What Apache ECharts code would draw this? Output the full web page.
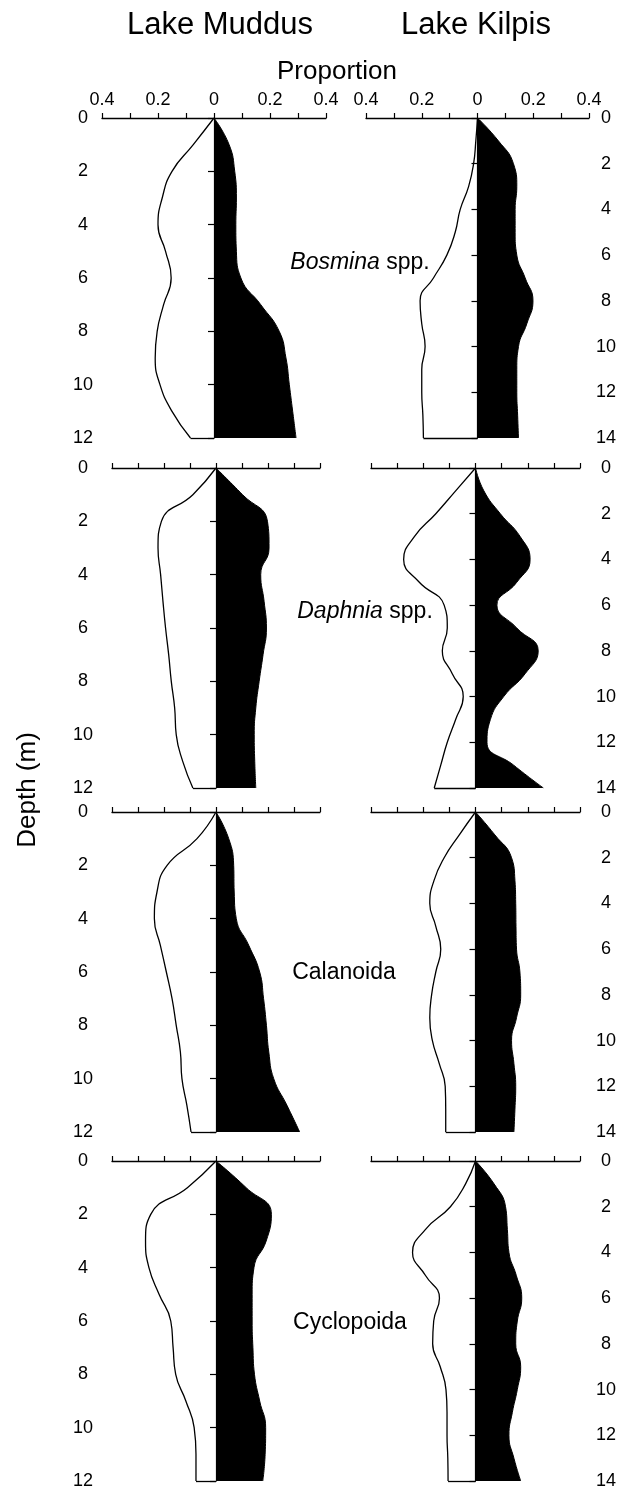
<!DOCTYPE html>
<html>
<head>
<meta charset="utf-8">
<script src="https://cdn.jsdelivr.net/npm/echarts@6/dist/echarts.min.js"></script>
<style>
html, body { margin: 0; padding: 0; background: #fff; }
#main { width: 628px; height: 1490px; }
</style>
</head>
<body>
<div id="main"></div>
<script>
// depth categories (m)
var muddusDepths = ['0','1','2','3','4','5','6','7','8','9','10','11','12'];
var kilpisDepths = ['0','1','2','3','4','5','6','7','8','9','10','11','12','13','14'];
var taxa = ['Bosmina', 'Daphnia', 'Calanoida', 'Cyclopoida'];
var proportionTicks = [-0.4, -0.2, 0, 0.2, 0.4];

// white profile (drawn left of zero) and black profile (drawn right of zero)
var muddusBosminaWhite = [0, 0.074, 0.15, 0.185, 0.20, 0.173, 0.153, 0.18, 0.203, 0.21, 0.193, 0.15, 0.084];
var muddusBosminaBlack = [0, 0.054, 0.074, 0.08, 0.078, 0.08, 0.096, 0.167, 0.233, 0.257, 0.269, 0.281, 0.293];
var kilpisBosminaWhite = [0, 0.006, 0.014, 0.032, 0.062, 0.08, 0.11, 0.158, 0.206, 0.20, 0.188, 0.2, 0.2, 0.196, 0.194];
var kilpisBosminaBlack = [0, 0.075, 0.129, 0.141, 0.135, 0.135, 0.141, 0.171, 0.199, 0.177, 0.147, 0.141, 0.141, 0.144, 0.147];

var muddusDaphniaWhite = [0, 0.089, 0.21, 0.223, 0.213, 0.204, 0.194, 0.182, 0.172, 0.159, 0.153, 0.128, 0.089];
var muddusDaphniaBlack = [0, 0.102, 0.198, 0.204, 0.172, 0.185, 0.194, 0.181, 0.166, 0.153, 0.147, 0.149, 0.153];
var kilpisDaphniaWhite = [0, 0.076, 0.152, 0.234, 0.275, 0.215, 0.12, 0.108, 0.127, 0.089, 0.047, 0.076, 0.108, 0.133, 0.158];
var kilpisDaphniaBlack = [0, 0.032, 0.095, 0.171, 0.209, 0.158, 0.082, 0.158, 0.24, 0.19, 0.108, 0.057, 0.044, 0.146, 0.26];

var muddusCalanoidaWhite = [0, 0.073, 0.188, 0.227, 0.237, 0.214, 0.191, 0.169, 0.153, 0.137, 0.131, 0.112, 0.096];
var muddusCalanoidaBlack = [0, 0.049, 0.068, 0.07, 0.078, 0.126, 0.168, 0.183, 0.194, 0.203, 0.222, 0.273, 0.322];
var kilpisCalanoidaWhite = [0, 0.062, 0.12, 0.159, 0.175, 0.152, 0.133, 0.152, 0.168, 0.175, 0.165, 0.139, 0.116, 0.114, 0.114];
var kilpisCalanoidaBlack = [0, 0.074, 0.138, 0.151, 0.154, 0.155, 0.157, 0.17, 0.173, 0.157, 0.138, 0.147, 0.154, 0.151, 0.147];

var muddusCyclopoidaWhite = [0, 0.11, 0.251, 0.271, 0.258, 0.219, 0.174, 0.165, 0.155, 0.116, 0.084, 0.077, 0.077];
var muddusCyclopoidaBlack = [0, 0.116, 0.213, 0.193, 0.146, 0.139, 0.139, 0.142, 0.148, 0.168, 0.191, 0.189, 0.18];
var kilpisCyclopoidaWhite = [0, 0.038, 0.096, 0.192, 0.241, 0.192, 0.138, 0.16, 0.164, 0.135, 0.113, 0.109, 0.109, 0.106, 0.105];
var kilpisCyclopoidaBlack = [0, 0.071, 0.115, 0.122, 0.128, 0.156, 0.177, 0.16, 0.154, 0.173, 0.16, 0.141, 0.128, 0.147, 0.173];

var profiles = [
    [muddusBosminaWhite, muddusBosminaBlack, kilpisBosminaWhite, kilpisBosminaBlack],
    [muddusDaphniaWhite, muddusDaphniaBlack, kilpisDaphniaWhite, kilpisDaphniaBlack],
    [muddusCalanoidaWhite, muddusCalanoidaBlack, kilpisCalanoidaWhite, kilpisCalanoidaBlack],
    [muddusCyclopoidaWhite, muddusCyclopoidaBlack, kilpisCyclopoidaWhite, kilpisCyclopoidaBlack]
];

var FONT = '"Liberation Sans", Arial, Helvetica, sans-serif';
var myChart = echarts.init(document.getElementById('main'), null, { renderer: 'canvas' });

// panel layout
var rowTop = [118, 468, 812, 1161];
var rowHeight = 320;
var leftCol = [[102, 224], [112, 208], [112, 208], [112, 208]];
var rightCol = [[366, 223], [371, 209], [371, 209], [371, 209]];
var labelLeftX = 83, labelRightX = 606;

var grids = [], xAxes = [], yAxes = [], series = [];

function addPanel(row, isKilpis) {
    var g = grids.length;
    var col = isKilpis ? rightCol[row] : leftCol[row];
    var depths = isKilpis ? kilpisDepths : muddusDepths;
    var white = profiles[row][isKilpis ? 2 : 0];
    var black = profiles[row][isKilpis ? 3 : 1];
    grids.push({ left: col[0], width: col[1], top: rowTop[row], height: rowHeight });
    xAxes.push({
        type: 'value', gridIndex: g, position: 'top', min: -0.4, max: 0.4, interval: 0.1,
        axisLine: { show: true, onZero: false, lineStyle: { color: '#000', width: 1.3 } },
        axisTick: { show: true, length: 5, lineStyle: { color: '#000', width: 1.2 } },
        splitLine: { show: false },
        axisLabel: {
            show: row === 0, margin: 9, color: '#000', fontSize: 18, fontFamily: FONT,
            formatter: function (v) {
                for (var i = 0; i < proportionTicks.length; i++) {
                    if (Math.abs(v - proportionTicks[i]) < 1e-6) return String(Math.abs(proportionTicks[i]));
                }
                return '';
            }
        }
    });
    // axis running down the zero line (ticks only)
    yAxes.push({
        type: 'category', gridIndex: g, data: depths, inverse: true, boundaryGap: false, z: 10,
        position: 'left',
        axisLine: { show: true, onZero: true, lineStyle: { color: '#000', width: 1.2 } },
        axisTick: { show: true, interval: 1, length: 6, lineStyle: { color: '#000', width: 1.2 } },
        axisLabel: { show: false },
        splitLine: { show: false }
    });
    // depth labels at the outer side
    var margin = isKilpis ? labelRightX - (col[0] + col[1]) : col[0] - labelLeftX;
    yAxes.push({
        type: 'category', gridIndex: g, data: depths, inverse: true, boundaryGap: false,
        position: isKilpis ? 'right' : 'left',
        axisLine: { show: false, onZero: false },
        axisTick: { show: false },
        splitLine: { show: false },
        axisLabel: { interval: 1, margin: margin, align: 'center', color: '#000', fontSize: 18, fontFamily: FONT }
    });
    var last = depths[depths.length - 1];
    series.push({
        type: 'line', xAxisIndex: g, yAxisIndex: 2 * g, smooth: 0.5, symbol: 'none', z: 2,
        data: white.map(function (v) { return -v; }),
        lineStyle: { color: '#000', width: 1.3 },
        areaStyle: { color: '#fff', opacity: 1 },
        markLine: {
            silent: true, symbol: 'none', label: { show: false },
            lineStyle: { color: '#000', width: 1.3, type: 'solid' },
            data: [[{ coord: [-white[white.length - 1], last] }, { coord: [0, last] }]]
        }
    });
    series.push({
        type: 'line', xAxisIndex: g, yAxisIndex: 2 * g, smooth: 0.5, symbol: 'none', z: 3,
        data: black,
        lineStyle: { color: '#000', width: 1 },
        areaStyle: { color: '#000', opacity: 1 }
    });
}

for (var r = 0; r < 4; r++) {
    addPanel(r, false);
    addPanel(r, true);
}

var taxonLabelPos = [[360, 263], [365, 612], [344, 973], [350, 1323]];
var graphics = [
    { type: 'text', x: 220, y: 25, style: { text: 'Lake Muddus', font: '31px ' + FONT, fill: '#000', align: 'center', verticalAlign: 'middle' } },
    { type: 'text', x: 476, y: 25, style: { text: 'Lake Kilpis', font: '31px ' + FONT, fill: '#000', align: 'center', verticalAlign: 'middle' } },
    { type: 'text', x: 337, y: 72, style: { text: 'Proportion', font: '26px ' + FONT, fill: '#000', align: 'center', verticalAlign: 'middle' } },
    { type: 'text', x: 28, y: 790, rotation: Math.PI / 2, style: { text: 'Depth (m)', font: '26px ' + FONT, fill: '#000', align: 'center', verticalAlign: 'middle' } }
];
taxa.forEach(function (t, i) {
    var italic = (t === 'Bosmina' || t === 'Daphnia');
    graphics.push({
        type: 'text', x: taxonLabelPos[i][0], y: taxonLabelPos[i][1],
        style: {
            text: italic ? '{i|' + t + '} spp.' : t,
            font: '23px ' + FONT, fill: '#000', align: 'center', verticalAlign: 'middle',
            rich: { i: { fontStyle: 'italic', fontSize: 23, fontFamily: FONT, fill: '#000' } }
        }
    });
});

myChart.setOption({
    animation: false,
    backgroundColor: '#fff',
    grid: grids,
    xAxis: xAxes,
    yAxis: yAxes,
    series: series,
    graphic: graphics
});
</script>
</body>
</html>
